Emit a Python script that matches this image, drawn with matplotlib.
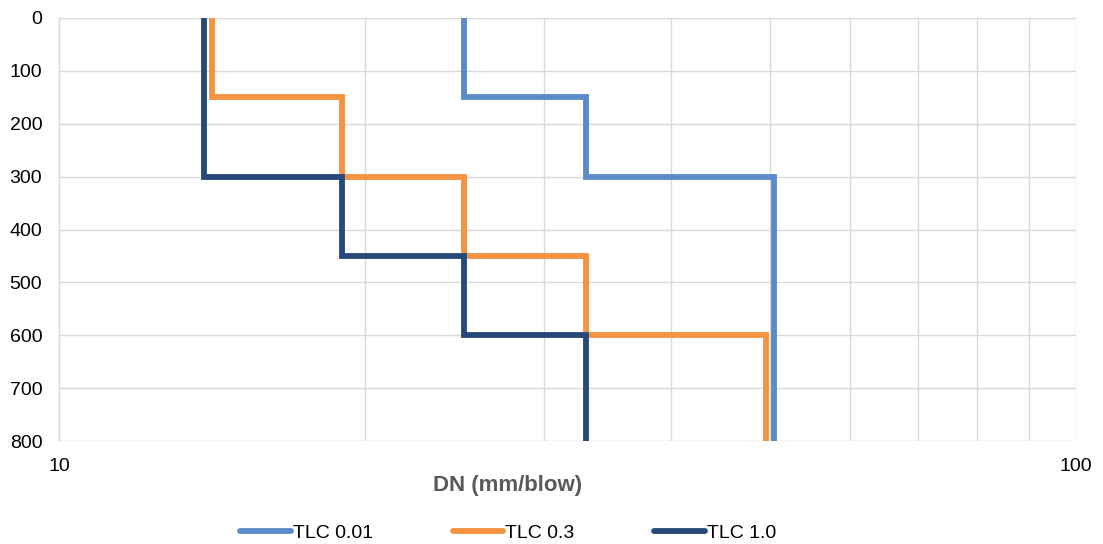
import numpy as np
import matplotlib
matplotlib.use("Agg")
import matplotlib.pyplot as plt

plt.rcParams['font.family'] = ['Liberation Sans', 'DejaVu Sans']

# layer boundaries (depth, mm) and DN per layer (mm/blow)
depths = [0, 150, 300, 450, 600, 800]
dn_tlc001 = [25, 33, 50.5, 50.5, 50.5]
dn_tlc03 = [14.15, 19, 25, 33, 49.6]
dn_tlc10 = [13.9, 13.9, 19, 25, 33]

labels = ["TLC 0.01", "TLC 0.3", "TLC 1.0"]
colors = ["#5B8ACB", "#F59340", "#254A7A"]


def profile(dn):
    # vertical segment per layer, joined by horizontal steps
    xs = np.repeat(dn, 2)
    ys = []
    for i in range(len(dn)):
        ys += [depths[i], depths[i + 1]]
    return xs, np.array(ys)


fig = plt.figure(figsize=(11.03, 5.44), dpi=100)
ax = fig.add_axes([59 / 1103, 1 - 441 / 544, (1076 - 59) / 1103, (441 - 18) / 544])

for dn, lab, c in zip([dn_tlc001, dn_tlc03, dn_tlc10], labels, colors):
    xs, ys = profile(dn)
    ax.plot(xs, ys, color=c, lw=4.2, label=lab, solid_joinstyle='miter', solid_capstyle='butt')

ax.set_xscale('log')
ax.set_xlim(10, 100)
ax.set_ylim(800, 0)
ax.set_yticks(range(0, 801, 100))
ax.set_xticks([10, 100])
ax.set_xticklabels(["10", "100"])
ax.set_xticks([20, 30, 40, 50, 60, 70, 80, 90], minor=True)
ax.xaxis.set_minor_formatter(matplotlib.ticker.NullFormatter())

ax.grid(True, which='both', color='#D9D9D9', lw=1.0)
ax.set_axisbelow(True)
for s in ax.spines.values():
    s.set_visible(False)
ax.spines['left'].set_visible(True)
ax.spines['left'].set_color('#D9D9D9')
ax.spines['left'].set_linewidth(1.0)
ax.tick_params(which='both', length=0, labelsize=14, colors='#000000')
ax.tick_params(axis='y', pad=12)
ax.tick_params(axis='x', pad=12)

fig.text(508 / 1103, 1 - 485 / 544, "DN (mm/blow)", ha='center', va='center',
         fontsize=16, fontweight='bold', color='#595959')

leg = fig.legend(loc='center', bbox_to_anchor=(508 / 1103, 1 - 533 / 544), ncol=3, frameon=False,
                 fontsize=14, handlelength=2.6, handletextpad=0.1, columnspacing=4.1)
for h in leg.get_lines():
    h.set_solid_capstyle('round')

fig.savefig("out.png", dpi=100)
